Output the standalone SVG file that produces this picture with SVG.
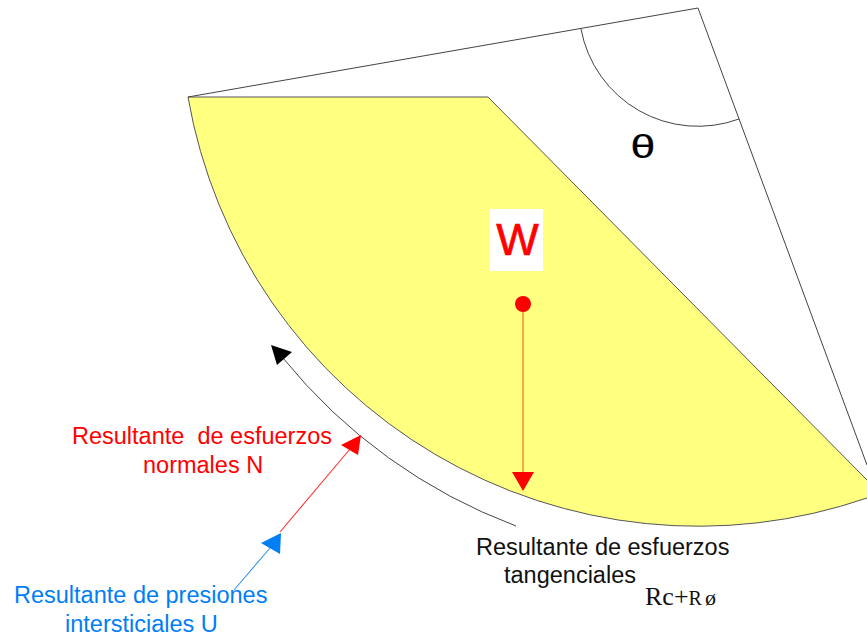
<svg xmlns="http://www.w3.org/2000/svg" width="867" height="635" viewBox="0 0 867 635">
<style>
.t{font-family:"Liberation Sans",Arial,sans-serif;font-size:23.5px}
.l{fill:none;stroke:#444;stroke-width:1}
.red{fill:#f00}
.blue{fill:#007ef5}
</style>
<rect width="867" height="635" fill="#fff"/>
<g id="wedge"><path d="M188 97H488L867 480V498A518 518 0 0 1 188 97Z" fill="#ffff80"/>
<path d="M867 498A518 518 0 0 1 188 97H488L867 480" fill="none" stroke="#555" stroke-width="1"/></g>
<g id="frame">
<path class="l" d="M188 97L698 8L867 465"/>
<path class="l" d="M581 29A119 119 0 0 0 739 119"/>
</g>
<g id="connectors">
<path class="l" d="M516 526A547 547 0 0 1 283 358"/>
<path d="M271 345L292 352L277 365Z" fill="#000"/>
<path d="M523 304V474" stroke="#f07020" stroke-width="1.2"/>
<path d="M512 472H534L523 491Z" class="red"/>
<path d="M280 532L350 449" stroke="#f33" stroke-width="1.1"/>
<path d="M361 435L341 445L358 455Z" class="red"/>
<path d="M234 590L270 548" stroke="#3a95f0" stroke-width="1.1"/>
<path d="M281 533L261 543L280 554Z" class="blue"/>
</g>
<g id="weight"><rect x="490" y="209" width="53" height="62" fill="#fff"/>
<text x="517.500" y="255" text-anchor="middle" stroke="#f00" stroke-width="0.7" style="font-family:'Liberation Sans',Arial,sans-serif;font-size:45px" class="red">W</text>
<circle cx="523" cy="304" r="8" class="red"/></g>
<g id="theta"><text transform="translate(643 158) scale(1.35 1)" text-anchor="middle" stroke="#000" stroke-width="0.2" style="font-family:'Liberation Sans',Arial,sans-serif;font-size:33px" fill="#000">θ</text></g>
<g id="label-n"><text class="t red" x="72" y="444" xml:space="preserve">Resultante  de esfuerzos</text>
<text class="t red" x="143" y="472.500">normales N</text></g>
<g id="label-u"><text class="t blue" x="14" y="603">Resultante de presiones</text>
<text class="t blue" x="65" y="631.500">intersticiales U</text></g>
<g id="label-r"><text class="t" x="476" y="555" fill="#111">Resultante de esfuerzos</text>
<text class="t" x="504" y="583" fill="#111">tangenciales</text>
<text x="645" y="605" style="font-family:'Liberation Serif',serif;font-size:26px" fill="#111">Rc+<tspan font-size="20">R</tspan><tspan font-size="22" dx="3">ø</tspan></text></g>
</svg>
